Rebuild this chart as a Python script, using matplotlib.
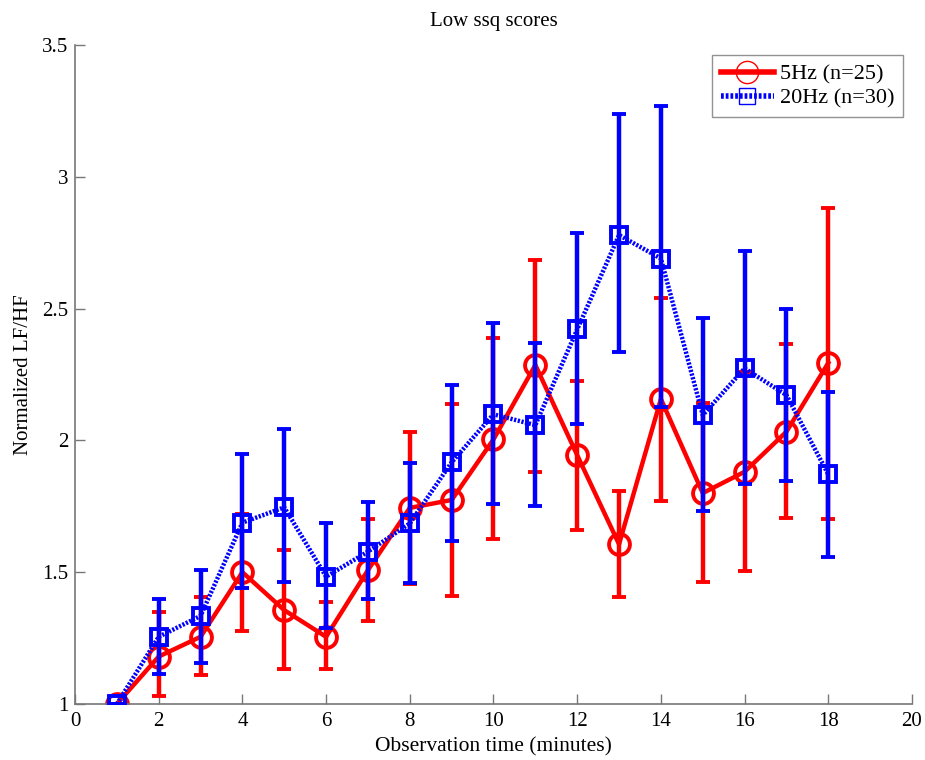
import matplotlib
matplotlib.use("Agg")
import matplotlib.pyplot as plt
from matplotlib.lines import Line2D
import numpy as np

plt.rcParams['font.family'] = ['Liberation Serif', 'DejaVu Serif']

time = [1, 2, 3, 4, 5, 6, 7, 8, 9, 10, 11, 12, 13, 14, 15, 16, 17, 18]

hz5_mean = [1.0, 1.18, 1.255, 1.50, 1.356, 1.255, 1.508, 1.744, 1.774, 2.004, 2.286, 1.944, 1.606, 2.157, 1.80, 1.881, 2.033, 2.294]
hz5_low = [1.0, 1.03, 1.109, 1.278, 1.134, 1.134, 1.316, 1.455, 1.41, 1.625, 1.88, 1.66, 1.407, 1.77, 1.464, 1.506, 1.706, 1.70]
hz5_high = [1.0, 1.349, 1.405, 1.72, 1.584, 1.388, 1.70, 2.033, 2.137, 2.389, 2.685, 2.226, 1.809, 2.542, 2.14, 2.26, 2.364, 2.882]

hz20_mean = [1.0, 1.255, 1.334, 1.688, 1.746, 1.483, 1.578, 1.685, 1.917, 2.099, 2.058, 2.421, 2.779, 2.69, 2.096, 2.273, 2.172, 1.871]
hz20_low = [1.0, 1.114, 1.154, 1.441, 1.464, 1.287, 1.398, 1.46, 1.619, 1.757, 1.753, 2.061, 2.334, 2.127, 1.733, 1.833, 1.846, 1.556]
hz20_high = [1.0, 1.40, 1.508, 1.948, 2.042, 1.688, 1.767, 1.913, 2.21, 2.444, 2.368, 2.786, 3.237, 3.268, 2.463, 2.719, 2.50, 2.184]

labels = ['5Hz (n=25)', '20Hz (n=30)']
title = 'Low ssq scores'
xlabel = 'Observation time (minutes)'
ylabel = 'Normalized LF/HF'

fig = plt.figure(figsize=(9.25, 7.6), dpi=100)
ax = fig.add_axes([75/925, 56/760, (912-75)/925, (704-45)/760])

m5 = np.array(hz5_mean)
err5 = [m5 - np.array(hz5_low), np.array(hz5_high) - m5]
m20 = np.array(hz20_mean)
err20 = [m20 - np.array(hz20_low), np.array(hz20_high) - m20]

red = '#ff0000'
blue = '#0000ff'
dots = (0, (0.5, 0.35))

ax.errorbar(time, m5, yerr=err5, color=red, lw=3.2, elinewidth=3.2, capsize=5, capthick=3.2,
            marker='o', markersize=15, markerfacecolor='none', markeredgecolor=red,
            markeredgewidth=2.8, zorder=2)
ax.errorbar(time, m20, yerr=err20, color=blue, lw=3.2, elinewidth=3.2, capsize=5, capthick=3.2,
            linestyle=dots, marker='s', markersize=12, markerfacecolor='none',
            markeredgecolor=blue, markeredgewidth=2.8, zorder=3)

ax.set_xlim(0, 20)
ax.set_ylim(1, 3.5)
ax.set_xticks(np.arange(0, 21, 2))
ax.set_yticks([1, 1.5, 2, 2.5, 3, 3.5])
ax.set_yticklabels(['1', '1.5', '2', '2.5', '3', '3.5'])
ax.tick_params(direction='in', length=7, color='#777777', labelsize=15, width=1)
ax.tick_params(axis='x', pad=6)
ax.tick_params(axis='y', pad=5)
for s in ['top', 'right']:
    ax.spines[s].set_visible(False)
for s in ['left', 'bottom']:
    ax.spines[s].set_color('#777777')
    ax.spines[s].set_linewidth(1.2)

ax.set_xlabel(xlabel, fontsize=15.5, labelpad=4)
ax.set_ylabel(ylabel, fontsize=15, labelpad=6)
ax.set_title(title, fontsize=15, pad=14)

handles = [
    Line2D([], [], color=red, lw=4, marker='o', markersize=16, markerfacecolor='none',
           markeredgecolor=red, markeredgewidth=1),
    Line2D([], [], color=blue, lw=4, linestyle=dots, marker='s', markersize=12,
           markerfacecolor='none', markeredgecolor=blue, markeredgewidth=1),
]
leg = ax.legend(handles, labels, loc='upper right', fontsize=16, frameon=True, fancybox=False,
                edgecolor='#777777', borderpad=0.4, handlelength=2.4, handletextpad=0.25,
                labelspacing=0.15, borderaxespad=0, numpoints=1,
                bbox_to_anchor=((903-75)/837, (704-55)/659))
leg.get_frame().set_linewidth(1.0)

fig.savefig('out.png', dpi=100, facecolor='white')
